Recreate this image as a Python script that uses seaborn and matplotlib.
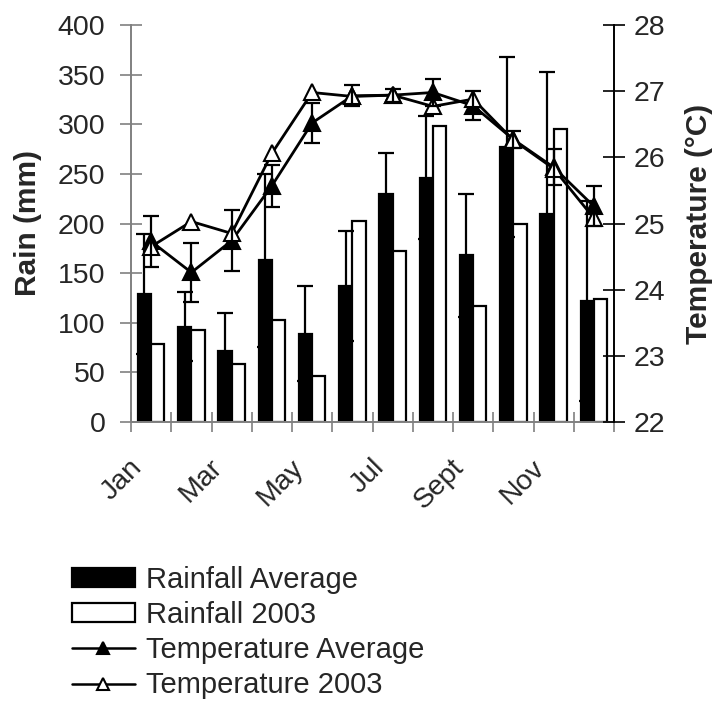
import numpy as np
import pandas as pd
import matplotlib
matplotlib.use("Agg")
import matplotlib.pyplot as plt
from matplotlib.patches import Patch
from matplotlib.lines import Line2D
from matplotlib.ticker import FixedLocator, NullFormatter
from matplotlib.transforms import ScaledTranslation
import seaborn as sns

# Monthly rainfall (mm) and temperature (°C)
months = ["Jan", "Feb", "Mar", "Apr", "May", "Jun", "Jul", "Aug", "Sept", "Oct", "Nov", "Dec"]
rain_avg = [129, 96, 72, 163, 89, 137, 230, 246, 168, 277, 210, 122]
rain_avg_err = [60, 35, 38, 87, 48, 55, 41, 62, 62, 91, 143, 101]
rain_2003 = [79, 93, 58, 103, 46, 203, 172, 298, 117, 200, 295, 124]
temp_avg = [24.73, 24.26, 24.74, 25.57, 26.52, 26.93, 26.94, 26.98, 26.78, 26.27, 25.85, 25.26]
temp_avg_err = [0.38, 0.44, 0.46, 0.32, 0.30, 0.16, 0.10, 0.20, 0.22, 0.13, 0.27, 0.30]
temp_2003 = [24.65, 25.03, 24.85, 26.06, 26.98, 26.92, 26.94, 26.77, 26.88, 26.26, 25.83, 25.08]
shown_months = ["Jan", "Mar", "May", "Jul", "Sept", "Nov"]

series_names = ["Rainfall Average", "Rainfall 2003", "Temperature Average", "Temperature 2003"]

sns.set_theme(style="white")
plt.rcParams["font.family"] = ["Liberation Sans", "DejaVu Sans"]

TICK_FS = 20.5
LABEL_FS = 21.5

rain_df = pd.DataFrame({
    "month": months * 2,
    "rain": rain_avg + rain_2003,
    "series": [series_names[0]] * len(months) + [series_names[1]] * len(months),
})

fig = plt.figure(figsize=(7.13, 7.02), dpi=100)
ax = fig.add_axes([131 / 713, 1 - 422 / 702, (614 - 131) / 713, (422 - 25) / 702])

sns.barplot(data=rain_df, x="month", y="rain", hue="series", order=months,
            hue_order=series_names[:2],
            palette={series_names[0]: "black", series_names[1]: "white"},
            edgecolor="black", linewidth=1.6, width=0.66, errorbar=None,
            legend=False, ax=ax)

# error bars on the long-term average bars
avg_centers = [p.get_x() + p.get_width() / 2 for p in ax.containers[0]]
ax.errorbar(avg_centers, rain_avg, yerr=rain_avg_err, fmt="none", ecolor="black",
            elinewidth=1.6, capsize=5.5, capthick=1.6, zorder=3)

ax.set_ylim(0, 400)
ax.set_xlim(-0.5, len(months) - 0.5)
ax.set_yticks(np.arange(0, 401, 50))
ax.set_ylabel("Rain (mm)", fontsize=LABEL_FS, fontweight="bold", labelpad=11)
ax.set_xlabel("")

# month labels on every other month, tick marks at month boundaries
pos = np.arange(len(months))
ax.set_xticks(pos)
ax.set_xticklabels([m if m in shown_months else "" for m in months],
                   rotation=45, ha="right", va="top", rotation_mode="anchor",
                   fontsize=TICK_FS)
ax.tick_params(axis="x", which="major", length=0, pad=14)
ax.xaxis.set_minor_locator(FixedLocator(np.arange(-0.5, len(months), 1.0)))
ax.xaxis.set_minor_formatter(NullFormatter())
ax.tick_params(axis="x", which="minor", direction="inout", length=14,
               width=1.2, color="#808080", bottom=True)
ax.tick_params(axis="y", direction="inout", length=16, width=1.2,
               color="#808080", labelsize=TICK_FS, pad=10.5, left=True)

for side in ["top", "right"]:
    ax.spines[side].set_visible(False)
for side in ["left", "bottom"]:
    ax.spines[side].set_color("#808080")
    ax.spines[side].set_linewidth(1.4)

# temperature on the secondary axis
ax2 = ax.twinx()
sns.lineplot(x=pos, y=temp_avg, ax=ax2, color="black", linewidth=2.0,
             marker="^", markersize=11, markerfacecolor="black",
             markeredgecolor="black", markeredgewidth=1.5, zorder=4)
sns.lineplot(x=pos, y=temp_2003, ax=ax2, color="black", linewidth=2.0,
             marker="^", markersize=11, markerfacecolor="white",
             markeredgecolor="black", markeredgewidth=1.5, zorder=5)
ax2.errorbar(pos, temp_avg, yerr=temp_avg_err, fmt="none", ecolor="black",
             elinewidth=1.6, capsize=5.5, capthick=1.6, zorder=6)

ax2.set_ylim(22, 28)
ax2.set_yticks(np.arange(22, 28.1, 1))
ax2.set_ylabel("Temperature (°C)", fontsize=LABEL_FS, fontweight="bold", labelpad=14.5)
ax2.tick_params(axis="y", direction="inout", length=16, width=1.2,
                color="black", labelsize=TICK_FS, pad=6, right=True)
for side in ["top", "left", "bottom"]:
    ax2.spines[side].set_visible(False)
ax2.spines["right"].set_color("black")
ax2.spines["right"].set_linewidth(1.4)
ax2.set_xlim(-0.5, len(months) - 0.5)

handles = [
    Patch(facecolor="black", edgecolor="black", linewidth=1.6),
    Patch(facecolor="white", edgecolor="black", linewidth=1.6),
    Line2D([], [], color="black", linewidth=1.8, marker="^", markersize=8.5,
           markerfacecolor="black", markeredgecolor="black", markeredgewidth=1.5),
    Line2D([], [], color="black", linewidth=1.8, marker="^", markersize=8.5,
           markerfacecolor="white", markeredgecolor="black", markeredgewidth=1.5),
]
fig.legend(handles, series_names, loc="upper left",
           bbox_to_anchor=(72 / 713, 1 - 566 / 702), frameon=False,
           fontsize=21, borderpad=0, borderaxespad=0, handlelength=2.15,
           handleheight=0.62, handletextpad=0.38, labelspacing=0.245)

# nudge the slanted month labels down and to the left of their month
shift = ScaledTranslation(-0.22, -0.13, fig.dpi_scale_trans)
for lab in ax.get_xticklabels():
    lab.set_transform(lab.get_transform() + shift)

fig.savefig("out.png", dpi=100)
